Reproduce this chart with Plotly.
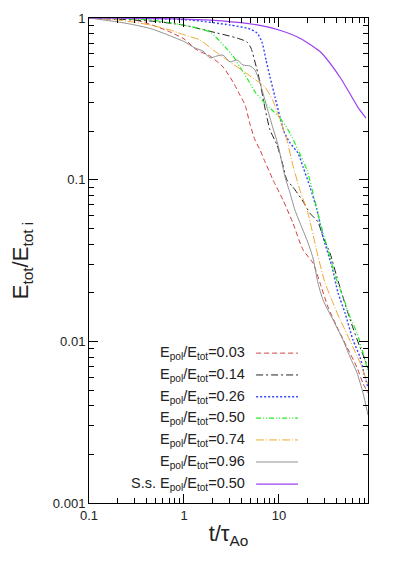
import plotly.graph_objects as go

# energy decay curves
t_003 = [0.1, 0.202, 0.305, 0.461, 0.679, 1.0, 1.37, 1.877, 2.574, 3.28, 3.88, 4.39, 4.95, 5.59, 6.31, 7.12,
         8.04, 8.65, 11.0, 14.0, 17.9, 22.8, 27.0, 32.8, 40.7, 52.0, 66.2, 76.6, 86.5]
e_003 = [1.0, 0.986, 0.972, 0.905, 0.83, 0.742, 0.634, 0.582, 0.498, 0.402, 0.334, 0.29, 0.221, 0.176, 0.153, 0.129,
         0.11, 0.0997, 0.075, 0.054, 0.0368, 0.0305, 0.023, 0.0163, 0.0123, 0.0092, 0.0069, 0.0055, 0.0048]

t_014 = [0.1, 0.439, 0.976, 2.22, 3.61, 4.6, 5.07, 5.59, 6.31, 7.12, 8.04, 9.53, 11.0, 12.1, 14.0, 17.5,
         21.2, 25.7, 29.1, 34.4, 40.7, 52.0, 60.1, 71.2, 80.4, 86.5]
e_014 = [1.0, 0.958, 0.905, 0.808, 0.752, 0.711, 0.652, 0.534, 0.402, 0.277, 0.203, 0.164, 0.123, 0.0996, 0.0901, 0.075,
         0.062, 0.0548, 0.0442, 0.0352, 0.025, 0.0156, 0.0121, 0.0092, 0.0077, 0.0068]

t_026 = [0.1, 0.439, 1.157, 3.05, 4.95, 5.87, 6.62, 7.3, 8.04, 9.07, 10.24, 11.3, 13.05, 15.85, 17.9, 21.2,
         25.1, 29.1, 36.1, 41.8, 49.5, 60.1, 71.2, 80.4, 86.5]
e_026 = [1.0, 0.993, 0.972, 0.905, 0.855, 0.808, 0.711, 0.55, 0.432, 0.325, 0.244, 0.198, 0.169, 0.146, 0.12, 0.09,
         0.065, 0.0442, 0.0289, 0.02, 0.015, 0.0102, 0.008, 0.006, 0.0052]

t_050 = [0.1, 0.439, 0.976, 1.877, 2.7, 3.28, 3.88, 4.6, 5.59, 6.62, 8.04, 9.76, 11.57, 13.05, 15.85, 19.7,
         22.8, 27.0, 32.8, 38.8, 47.2, 55.9, 66.2, 76.6, 86.5]
e_050 = [1.0, 0.972, 0.905, 0.819, 0.662, 0.582, 0.498, 0.425, 0.349, 0.311, 0.277, 0.248, 0.218, 0.194, 0.153, 0.115,
         0.083, 0.0548, 0.0368, 0.0257, 0.0188, 0.0142, 0.0113, 0.0085, 0.0065]

t_074 = [0.1, 0.202, 0.439, 0.713, 1.02, 1.474, 2.02, 3.05, 4.18, 5.87, 7.12, 8.65, 10.24, 12.1, 14.0, 16.6,
         20.2, 25.1, 30.5, 37.0, 43.9, 49.5, 60.1, 71.2, 86.5]
e_074 = [1.0, 0.972, 0.905, 0.843, 0.785, 0.731, 0.634, 0.535, 0.47, 0.408, 0.374, 0.307, 0.234, 0.176, 0.123, 0.0864,
         0.062, 0.0357, 0.023, 0.0173, 0.0136, 0.0118, 0.0092, 0.0074, 0.0054]

t_096 = [0.1, 0.202, 0.305, 0.461, 0.679, 1.02, 1.305, 1.585, 1.877, 2.22, 2.574, 3.05, 3.61, 4.18, 4.95, 5.59,
         6.31, 7.3, 8.44, 9.76, 11.57, 13.05, 14.7, 17.5, 20.2, 22.8, 25.7, 29.1, 37.0, 47.2, 55.9, 66.2, 76.6, 86.5]
e_096 = [1.0, 0.945, 0.905, 0.855, 0.785, 0.711, 0.652, 0.625, 0.566, 0.582, 0.59, 0.535, 0.55, 0.512, 0.505, 0.477,
         0.396, 0.294, 0.218, 0.164, 0.104, 0.083, 0.065, 0.0502, 0.0407, 0.0328, 0.023, 0.018, 0.0136, 0.0102, 0.008,
         0.0064, 0.0048, 0.0035]

t_ss = [0.1, 1.0, 2.5, 6.3, 10.0, 16.6, 27.0, 43.9, 67.9, 82.4]
e_ss = [1.0, 0.985, 0.96, 0.9, 0.843, 0.75, 0.62, 0.43, 0.28, 0.24]

labels = ["E<sub>pol</sub>/E<sub>tot</sub>=0.03", "E<sub>pol</sub>/E<sub>tot</sub>=0.14",
          "E<sub>pol</sub>/E<sub>tot</sub>=0.26", "E<sub>pol</sub>/E<sub>tot</sub>=0.50",
          "E<sub>pol</sub>/E<sub>tot</sub>=0.74", "E<sub>pol</sub>/E<sub>tot</sub>=0.96",
          "S.s. E<sub>pol</sub>/E<sub>tot</sub>=0.50"]
colors = ["#d43f3f", "#222222", "#3344ff", "#22ee22", "#f0a830", "#909090", "#9b40f0"]
dashes = ["5px,3px", "7px,3px,2px,3px", "2px,2px", "5px,2px,1px,2px,1px,2px", "8px,2px,1px,2px", "solid", "solid"]
widths = [1, 1, 1.4, 1.2, 1, 1, 1.2]

series = [(t_003, e_003), (t_014, e_014), (t_026, e_026), (t_050, e_050),
          (t_074, e_074), (t_096, e_096), (t_ss, e_ss)]

x_major = [0.1, 1, 10]
y_major = [0.001, 0.01, 0.1, 1]
x_minor = [m * 10 ** k for k in (-1, 0, 1) for m in range(2, 10)]
y_minor = [m * 10 ** k for k in (-3, -2, -1) for m in range(2, 10)]

fig = go.Figure()
for (tt, ee), lab, c, d, w in zip(series, labels, colors, dashes, widths):
    fig.add_trace(go.Scatter(x=tt, y=ee, mode="lines", name=lab, showlegend=False,
                             line=dict(color=c, dash=d, width=w, shape="spline", smoothing=0.6)))

# gnuplot style key: text on the left, line sample on the right
row_y = [0.309, 0.264, 0.219, 0.175, 0.130, 0.0845, 0.039]
for lab, c, d, w, yy in zip(labels, colors, dashes, widths, row_y):
    fig.add_annotation(x=0.566, y=yy, xref="paper", yref="paper", text=lab, showarrow=False,
                       xanchor="right", yanchor="middle", font=dict(size=14.5, color="#222"))
    fig.add_shape(type="line", xref="paper", yref="paper", x0=0.599, x1=0.749, y0=yy, y1=yy,
                  line=dict(color=c, dash=d, width=w))

axis_common = dict(type="log", showline=True, linecolor="black", mirror="ticks",
                   ticks="inside", ticklen=9, tickcolor="black", gridcolor="white",
                   automargin=False, tickfont=dict(size=13, color="#222"))
minor_common = dict(tickmode="array", ticks="inside", ticklen=5, tickcolor="black", gridcolor="white")

# page body adds an 8px margin, so the figure is sized to fit inside it
fig.update_layout(
    width=379, height=548,
    margin=dict(l=81, r=19, t=10, b=53),
    plot_bgcolor="white", paper_bgcolor="white",
    font=dict(family="Liberation Sans, Arial, sans-serif", color="#222"),
    xaxis=dict(axis_common, range=[-1, 1.937], tickvals=x_major,
               minor=dict(minor_common, tickvals=x_minor),
               title=dict(text="t/τ<sub>Ao</sub>", font=dict(size=22), standoff=4)),
    yaxis=dict(axis_common, range=[-3, 0], tickvals=y_major,
               minor=dict(minor_common, tickvals=y_minor),
               title=dict(text="E<sub>tot</sub>/E<sub>tot i</sub>", font=dict(size=22), standoff=18)),
)

fig.write_html("out.html")
